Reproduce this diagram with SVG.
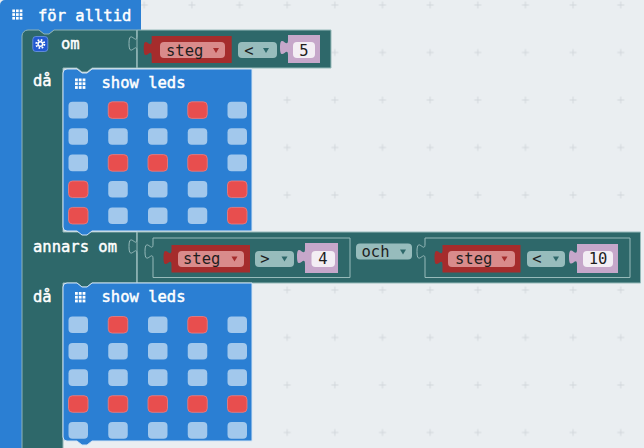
<svg xmlns="http://www.w3.org/2000/svg" width="644" height="448" viewBox="0 0 644 448">
<defs>
<pattern id="grid" patternUnits="userSpaceOnUse" x="-22.5" y="-18.75" width="47.65" height="47.5">
<path d="M20.3,23.75h7M23.8,20.25v7" stroke="#d2d7dc" stroke-width="1" fill="none"/>
</pattern>
</defs>
<style>
.t{font-family:"DejaVu Sans Mono","Liberation Mono",monospace;font-size:15.5px}
.w{fill:#ffffff;stroke:#ffffff;stroke-width:0.45}
.d{fill:#1e1e1e}
.blue{fill:#2b7fd3}
.teal{fill:#2e686a}
.ol{fill:#2e686a;stroke:#97baba;stroke-width:1}
.sl{fill:#2b7fd3;stroke:#d3e4f4;stroke-width:1}
.off{fill:#a2c8ec}
.on{fill:#e84e4e;stroke:#ee7f7f;stroke-width:0.8}
.var{fill:#a52c2c}
.pink{fill:#d98b8b}
.dd{fill:#97bcbc}
.num{fill:#c6a7ca}
.nf{fill:#f3eef4}
.trr{fill:#a52c2c}
.trt{fill:#2e686a}
.ic{fill:#ffffff}
</style>
<rect width="644" height="448" fill="#eaeef1"/>
<rect width="644" height="448" fill="url(#grid)"/>

<g id="forever">
<path class="blue" d="M0,5 a5,5 0 0 1 5,-5 H141 V30 H54 l-5,4 h-5 l-5,-4 H28 V448 H0 Z"/>
<g class="ic">
<rect x="12.3" y="9.5" width="2.7" height="2.7"/><rect x="16" y="9.5" width="2.7" height="2.7"/><rect x="19.7" y="9.5" width="2.7" height="2.7"/>
<rect x="12.3" y="13.2" width="2.7" height="2.7"/><rect x="16" y="13.2" width="2.7" height="2.7"/><rect x="19.7" y="13.2" width="2.7" height="2.7"/>
<rect x="12.3" y="16.9" width="2.7" height="2.7"/><rect x="16" y="16.9" width="2.7" height="2.7"/><rect x="19.7" y="16.9" width="2.7" height="2.7"/>
</g>
<text class="t w" x="38" y="20.5">för alltid</text>
</g>

<g id="if">
<path class="teal" stroke="#8fb3b5" stroke-width="1" d="M22,36 a6,6 0 0 1 6,-6 H39 l5,4 h5 l5,-4 H137 V68 H92 l-5,4 h-5 l-5,-4 H63 V232 H137 V283 H92 l-5,4 h-5 l-5,-4 H63 V449 H22 Z"/>
<rect x="32.8" y="36.5" width="15" height="15" rx="3" fill="#2359d1" stroke="#6f98e6" stroke-width="0.8"/>
<circle cx="40.3" cy="44" r="4" fill="none" stroke="#ffffff" stroke-width="2" stroke-dasharray="1.6 1.54"/>
<circle cx="40.3" cy="44" r="2.3" fill="none" stroke="#ffffff" stroke-width="1.5"/>
<text class="t w" x="61" y="48.5">om</text>
<text class="t w" x="33" y="86">då</text>
<text class="t w" x="33" y="251.5">annars om</text>
<text class="t w" x="33" y="301.5">då</text>
</g>

<g id="cond1">
<path class="ol" d="M137,30 H331 V68 H137 V51 c0,-10 -8,8 -8,-7.5 s8,2.5 8,-7.5 Z"/>
<line x1="137" y1="30" x2="137" y2="68" stroke="#97baba" stroke-width="1"/>
<path class="var" d="M151.7,36 H231.7 V63 H151.7 V56 c0,-10 -8,8 -8,-7.5 s8,2.5 8,-7.5 Z"/>
<rect class="pink" x="160" y="42" width="65" height="16" rx="4"/>
<text class="t d" x="166" y="55.5">steg</text>
<path class="trr" d="M213,48 h6 l-3,5 Z"/>
<rect class="dd" x="238" y="42" width="39" height="16" rx="4"/>
<text class="t d" x="249" y="55.5" text-anchor="middle">&lt;</text>
<path class="trt" d="M263,48 h6 l-3,5 Z"/>
<path class="num" d="M288,35 H320 V63 H288 V55 c0,-10 -8,8 -8,-7.5 s8,2.5 8,-7.5 Z"/>
<rect class="nf" x="293" y="42" width="22" height="16" rx="4"/>
<text class="t d" x="304" y="55.5" text-anchor="middle">5</text>
</g>

<g id="leds1">
<path class="sl" d="M63,73 a4,4 0 0 1 4,-4 H77 l5,4 h5 l5,-4 H252 V231 H92 l-5,4 h-5 l-5,-4 H67 a4,4 0 0 1 -4,-4 Z"/>
<g class="ic">
<rect x="75" y="78.5" width="2.8" height="2.8"/><rect x="78.8" y="78.5" width="2.8" height="2.8"/><rect x="82.6" y="78.5" width="2.8" height="2.8"/>
<rect x="75" y="82.3" width="2.8" height="2.8"/><rect x="78.8" y="82.3" width="2.8" height="2.8"/><rect x="82.6" y="82.3" width="2.8" height="2.8"/>
<rect x="75" y="86.1" width="2.8" height="2.8"/><rect x="78.8" y="86.1" width="2.8" height="2.8"/><rect x="82.6" y="86.1" width="2.8" height="2.8"/>
</g>
<text class="t w" x="101.5" y="88">show leds</text>
<rect class="off" x="68.5" y="101.8" width="19.5" height="16.6" rx="4"/>
<rect class="on" x="108.25" y="101.8" width="19.5" height="16.6" rx="4"/>
<rect class="off" x="148" y="101.8" width="19.5" height="16.6" rx="4"/>
<rect class="on" x="187.75" y="101.8" width="19.5" height="16.6" rx="4"/>
<rect class="off" x="227.5" y="101.8" width="19.5" height="16.6" rx="4"/>
<rect class="off" x="68.5" y="128.2" width="19.5" height="16.6" rx="4"/>
<rect class="off" x="108.25" y="128.2" width="19.5" height="16.6" rx="4"/>
<rect class="off" x="148" y="128.2" width="19.5" height="16.6" rx="4"/>
<rect class="off" x="187.75" y="128.2" width="19.5" height="16.6" rx="4"/>
<rect class="off" x="227.5" y="128.2" width="19.5" height="16.6" rx="4"/>
<rect class="off" x="68.5" y="154.6" width="19.5" height="16.6" rx="4"/>
<rect class="on" x="108.25" y="154.6" width="19.5" height="16.6" rx="4"/>
<rect class="on" x="148" y="154.6" width="19.5" height="16.6" rx="4"/>
<rect class="on" x="187.75" y="154.6" width="19.5" height="16.6" rx="4"/>
<rect class="off" x="227.5" y="154.6" width="19.5" height="16.6" rx="4"/>
<rect class="on" x="68.5" y="181" width="19.5" height="16.6" rx="4"/>
<rect class="off" x="108.25" y="181" width="19.5" height="16.6" rx="4"/>
<rect class="off" x="148" y="181" width="19.5" height="16.6" rx="4"/>
<rect class="off" x="187.75" y="181" width="19.5" height="16.6" rx="4"/>
<rect class="on" x="227.5" y="181" width="19.5" height="16.6" rx="4"/>
<rect class="on" x="68.5" y="207.4" width="19.5" height="16.6" rx="4"/>
<rect class="off" x="108.25" y="207.4" width="19.5" height="16.6" rx="4"/>
<rect class="off" x="148" y="207.4" width="19.5" height="16.6" rx="4"/>
<rect class="off" x="187.75" y="207.4" width="19.5" height="16.6" rx="4"/>
<rect class="on" x="227.5" y="207.4" width="19.5" height="16.6" rx="4"/>
</g>

<g id="and">
<path class="ol" d="M137,232 H640.5 V283 H137 V254 c0,-10 -8,8 -8,-7.5 s8,2.5 8,-7.5 Z"/>
<line x1="137" y1="232" x2="137" y2="283" stroke="#97baba" stroke-width="1"/>
<rect class="dd" x="356" y="243.5" width="56" height="16" rx="4"/>
<text class="t d" x="361.5" y="257">och</text>
<path class="trt" d="M400,249.5 h6 l-3,5 Z"/>
</g>

<g id="cmp2">
<path class="ol" d="M153,238 H350 V277.5 H153 V259 c0,-10 -8,8 -8,-7.5 s8,2.5 8,-7.5 Z"/>
<path class="var" d="M171.5,245 H250 V272.5 H171.5 V265 c0,-10 -8,8 -8,-7.5 s8,2.5 8,-7.5 Z"/>
<rect class="pink" x="178" y="251" width="66" height="16" rx="4"/>
<text class="t d" x="183" y="264.3">steg</text>
<path class="trr" d="M231.5,256.5 h6 l-3,5 Z"/>
<rect class="dd" x="255" y="251" width="39" height="16" rx="4"/>
<text class="t d" x="265" y="264.3" text-anchor="middle">&gt;</text>
<path class="trt" d="M281.5,256.5 h6 l-3,5 Z"/>
<path class="num" d="M305,243 H338 V273 H305 V264 c0,-10 -8,8 -8,-7.5 s8,2.5 8,-7.5 Z"/>
<rect class="nf" x="311.5" y="251" width="23.5" height="16" rx="4"/>
<text class="t d" x="323" y="264.3" text-anchor="middle">4</text>
</g>

<g id="cmp3">
<path class="ol" d="M425,238 H630 V277.5 H425 V259 c0,-10 -8,8 -8,-7.5 s8,2.5 8,-7.5 Z"/>
<path class="var" d="M442.5,245 H520.5 V272.5 H442.5 V265 c0,-10 -8,8 -8,-7.5 s8,2.5 8,-7.5 Z"/>
<rect class="pink" x="448" y="251" width="67" height="16" rx="4"/>
<text class="t d" x="455" y="264.3">steg</text>
<path class="trr" d="M501.5,256.5 h6 l-3,5 Z"/>
<rect class="dd" x="527" y="251" width="38" height="16" rx="4"/>
<text class="t d" x="537" y="264.3" text-anchor="middle">&lt;</text>
<path class="trt" d="M553,256.5 h6 l-3,5 Z"/>
<path class="num" d="M577,244 H618 V273 H577 V264.5 c0,-10 -8,8 -8,-7.5 s8,2.5 8,-7.5 Z"/>
<rect class="nf" x="583" y="251" width="30" height="16" rx="4"/>
<text class="t d" x="598" y="264.3" text-anchor="middle">10</text>
</g>

<g id="leds2">
<path class="sl" d="M63,287 a4,4 0 0 1 4,-4 H77 l5,4 h5 l5,-4 H252 V441 H92 l-5,4 h-5 l-5,-4 H67 a4,4 0 0 1 -4,-4 Z"/>
<g class="ic">
<rect x="75" y="292" width="2.8" height="2.8"/><rect x="78.8" y="292" width="2.8" height="2.8"/><rect x="82.6" y="292" width="2.8" height="2.8"/>
<rect x="75" y="295.8" width="2.8" height="2.8"/><rect x="78.8" y="295.8" width="2.8" height="2.8"/><rect x="82.6" y="295.8" width="2.8" height="2.8"/>
<rect x="75" y="299.6" width="2.8" height="2.8"/><rect x="78.8" y="299.6" width="2.8" height="2.8"/><rect x="82.6" y="299.6" width="2.8" height="2.8"/>
</g>
<text class="t w" x="101.5" y="301.5">show leds</text>
<rect class="off" x="68.5" y="316.5" width="19.5" height="16.6" rx="4"/>
<rect class="on" x="108.25" y="316.5" width="19.5" height="16.6" rx="4"/>
<rect class="off" x="148" y="316.5" width="19.5" height="16.6" rx="4"/>
<rect class="on" x="187.75" y="316.5" width="19.5" height="16.6" rx="4"/>
<rect class="off" x="227.5" y="316.5" width="19.5" height="16.6" rx="4"/>
<rect class="off" x="68.5" y="342.9" width="19.5" height="16.6" rx="4"/>
<rect class="off" x="108.25" y="342.9" width="19.5" height="16.6" rx="4"/>
<rect class="off" x="148" y="342.9" width="19.5" height="16.6" rx="4"/>
<rect class="off" x="187.75" y="342.9" width="19.5" height="16.6" rx="4"/>
<rect class="off" x="227.5" y="342.9" width="19.5" height="16.6" rx="4"/>
<rect class="off" x="68.5" y="369.3" width="19.5" height="16.6" rx="4"/>
<rect class="off" x="108.25" y="369.3" width="19.5" height="16.6" rx="4"/>
<rect class="off" x="148" y="369.3" width="19.5" height="16.6" rx="4"/>
<rect class="off" x="187.75" y="369.3" width="19.5" height="16.6" rx="4"/>
<rect class="off" x="227.5" y="369.3" width="19.5" height="16.6" rx="4"/>
<rect class="on" x="68.5" y="395.7" width="19.5" height="16.6" rx="4"/>
<rect class="on" x="108.25" y="395.7" width="19.5" height="16.6" rx="4"/>
<rect class="on" x="148" y="395.7" width="19.5" height="16.6" rx="4"/>
<rect class="on" x="187.75" y="395.7" width="19.5" height="16.6" rx="4"/>
<rect class="on" x="227.5" y="395.7" width="19.5" height="16.6" rx="4"/>
<rect class="off" x="68.5" y="422.1" width="19.5" height="16.6" rx="4"/>
<rect class="off" x="108.25" y="422.1" width="19.5" height="16.6" rx="4"/>
<rect class="off" x="148" y="422.1" width="19.5" height="16.6" rx="4"/>
<rect class="off" x="187.75" y="422.1" width="19.5" height="16.6" rx="4"/>
<rect class="off" x="227.5" y="422.1" width="19.5" height="16.6" rx="4"/>
</g>
<g id="connectors"/>
</svg>
